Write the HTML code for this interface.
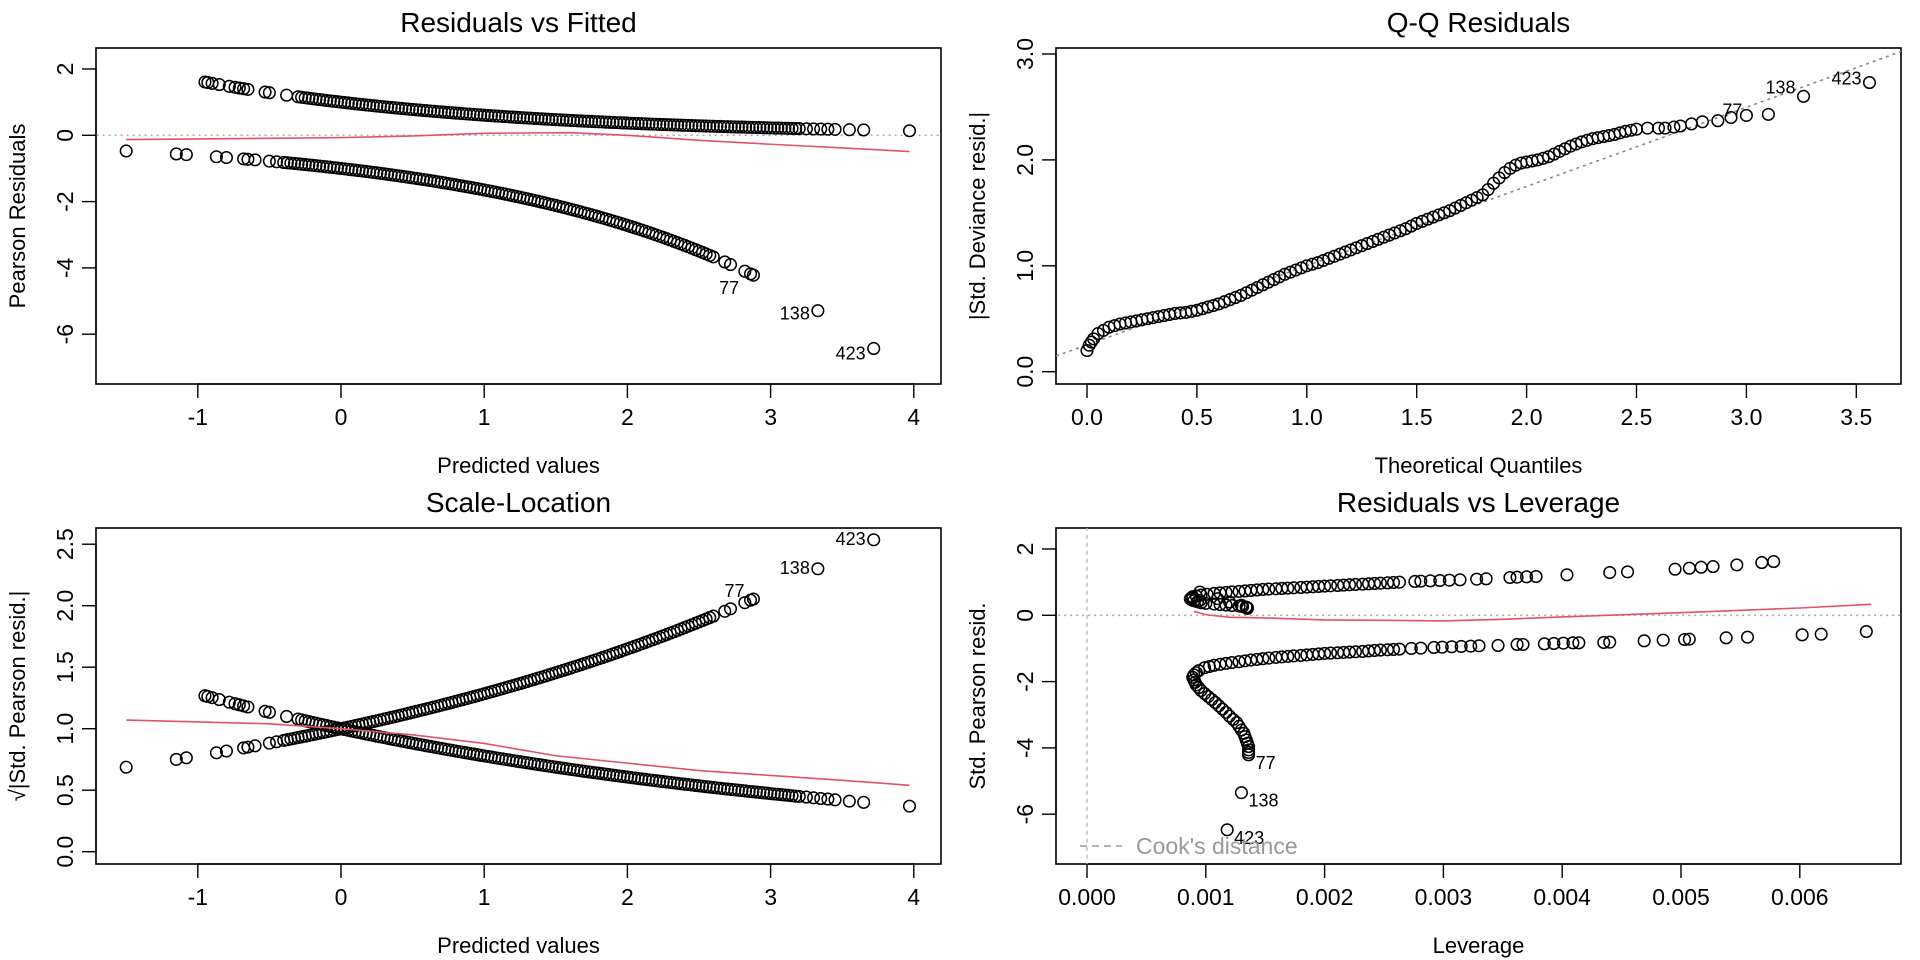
<!DOCTYPE html>
<html><head><meta charset="utf-8"><style>
html,body{margin:0;padding:0;background:#fff}
svg{display:block}
text{font-family:"Liberation Sans",Arial,sans-serif;fill:#000}
</style></head>
<body>
<svg id="s" width="1920" height="960" viewBox="0 0 1920 960"></svg>
<script>
// ---------- Data ----------
// Residuals vs Fitted: upper band (y=1)
const upEta = [-0.95,-0.93,-0.9,-0.85,-0.78,-0.74,-0.71,-0.68,-0.65,-0.53,-0.5,-0.38,
 -0.3,-0.25,-0.2,-0.15,-0.1,-0.05,0,0.05,0.1,0.15,0.2,0.25,0.3,0.35,0.4,0.45,0.5,0.55,0.6,0.65,0.7,0.75,0.8,0.85,0.9,0.95,1.0,1.05,1.1,1.15,1.2,1.25,1.3,1.35,1.4,1.45,1.5,1.55,1.6,1.65,1.7,1.75,1.8,1.85,1.9,1.95,2.0,2.05,2.1,2.15,2.2,2.25,2.3,2.35,2.4,2.45,2.5,2.55,2.6,2.65,2.7,2.75,2.8,2.85,2.9,2.95,3.0,3.05,3.1,3.15,3.2,
 3.25,3.3,3.35,3.4,3.45,3.55,3.65,3.97,
 -0.275,-0.225,-0.175,-0.125,-0.075,-0.025,0.025,0.075,0.125,0.175,0.225,0.275,0.325,0.375,0.425,0.475,0.525,0.575,0.625,0.675,0.725,0.775,0.825,0.875,0.925,0.975,1.025,1.075,1.125,1.175,1.225,1.275,1.325,1.375,1.425,1.475,1.525,1.575,1.625,1.675,1.725,1.775,1.825,1.875,1.925,1.975,2.025,2.075,2.125,2.175,2.225,2.275,2.325,2.375,2.425,2.475,2.525,2.575,2.625,2.675,2.725,2.775,2.825,2.875,2.925,2.975,3.025,3.075,3.125,3.175];
const upRes = [1.608,1.592,1.568,1.530,1.477,1.448,1.426,1.405,1.384,1.303,1.284,1.209,
 1.162,1.133,1.105,1.078,1.051,1.025,1.0,0.975,0.951,0.928,0.905,0.882,0.861,0.839,0.819,0.799,0.779,0.760,0.741,0.723,0.705,0.687,0.670,0.654,0.638,0.622,0.607,0.592,0.577,0.563,0.549,0.535,0.522,0.509,0.497,0.484,0.472,0.461,0.449,0.438,0.427,0.417,0.407,0.397,0.387,0.377,0.368,0.359,0.350,0.341,0.333,0.325,0.317,0.309,0.301,0.294,0.287,0.279,0.273,0.266,0.259,0.253,0.247,0.240,0.235,0.229,0.223,0.218,0.212,0.207,0.202,
 0.197,0.192,0.187,0.183,0.178,0.169,0.161,0.137,
 1.147,1.119,1.091,1.064,1.038,1.013,0.988,0.963,0.939,0.916,0.894,0.872,0.850,0.829,0.809,0.789,0.769,0.750,0.732,0.714,0.696,0.679,0.662,0.646,0.630,0.614,0.599,0.584,0.570,0.556,0.542,0.529,0.516,0.503,0.490,0.478,0.467,0.455,0.444,0.433,0.422,0.412,0.402,0.392,0.382,0.373,0.363,0.354,0.346,0.337,0.329,0.321,0.313,0.305,0.298,0.290,0.283,0.276,0.269,0.262,0.256,0.250,0.244,0.238,0.232,0.226,0.220,0.215,0.210,0.204];
// lower band (y=0)
const loEta = [-1.5,-1.15,-1.08,-0.87,-0.8,-0.68,-0.65,-0.6,-0.5,-0.45,
 -0.4,-0.35,-0.3,-0.25,-0.2,-0.15,-0.1,-0.05,0,0.05,0.1,0.15,0.2,0.25,0.3,0.35,0.4,0.45,0.5,0.55,0.6,0.65,0.7,0.75,0.8,0.85,0.9,0.95,1.0,1.05,1.1,1.15,1.2,1.25,1.3,1.35,1.4,1.45,1.5,1.55,1.6,1.65,1.7,1.75,1.8,1.85,1.9,1.95,2.0,2.05,2.1,2.15,2.2,2.25,2.3,2.35,2.4,2.45,2.5,2.55,2.6,
 2.68,2.72,2.82,2.86,2.88,3.33,3.72,
 -0.375,-0.325,-0.275,-0.225,-0.175,-0.125,-0.075,-0.025,0.025,0.075,0.125,0.175,0.225,0.275,0.325,0.375,0.425,0.475,0.525,0.575,0.625,0.675,0.725,0.775,0.825,0.875,0.925,0.975,1.025,1.075,1.125,1.175,1.225,1.275,1.325,1.375,1.425,1.475,1.525,1.575,1.625,1.675,1.725,1.775,1.825,1.875,1.925,1.975,2.025,2.075,2.125,2.175,2.225,2.275,2.325,2.375,2.425,2.475,2.525,2.575];
const loRes = [-0.472,-0.563,-0.583,-0.647,-0.670,-0.712,-0.723,-0.741,-0.779,-0.799,
 -0.819,-0.839,-0.861,-0.882,-0.905,-0.928,-0.951,-0.975,-1,-1.025,-1.051,-1.078,-1.105,-1.133,-1.162,-1.191,-1.221,-1.252,-1.284,-1.317,-1.350,-1.384,-1.419,-1.455,-1.492,-1.530,-1.568,-1.608,-1.649,-1.690,-1.733,-1.777,-1.822,-1.868,-1.916,-1.964,-2.014,-2.065,-2.117,-2.171,-2.226,-2.282,-2.340,-2.399,-2.460,-2.522,-2.586,-2.651,-2.718,-2.787,-2.858,-2.930,-3.004,-3.080,-3.158,-3.238,-3.320,-3.404,-3.490,-3.578,-3.669,
 -3.82,-3.90,-4.10,-4.18,-4.22,-5.29,-6.43,
 -0.829,-0.850,-0.872,-0.894,-0.916,-0.939,-0.963,-0.988,-1.013,-1.038,-1.064,-1.091,-1.119,-1.147,-1.176,-1.206,-1.237,-1.268,-1.300,-1.333,-1.367,-1.401,-1.437,-1.473,-1.511,-1.549,-1.588,-1.628,-1.669,-1.712,-1.755,-1.800,-1.845,-1.892,-1.940,-1.989,-2.039,-2.091,-2.144,-2.198,-2.254,-2.311,-2.369,-2.429,-2.491,-2.554,-2.618,-2.685,-2.753,-2.822,-2.894,-2.967,-3.042,-3.119,-3.198,-3.279,-3.362,-3.447,-3.534,-3.623];
const smoothFitX = [-1.5,0,0.5,1,1.6,2,2.5,3,3.5,3.97];
const smoothFitY = [-0.13,-0.07,-0.02,0.06,0.08,0.0,-0.15,-0.27,-0.38,-0.49];
// Scale-Location smoother
const smoothSLX = [-1.5,-0.5,0,0.5,1,1.5,2,2.5,3,3.5,3.97];
const smoothSLY = [1.07,1.04,1.0,0.95,0.88,0.78,0.72,0.66,0.62,0.58,0.54];
// Q-Q
const qqTheo = [0,0.01,0.02,0.03,0.05,0.1,0.15,0.2,0.25,0.3,0.35,0.4,0.45,0.5,0.55,0.6,0.65,0.7,0.75,0.8,0.85,0.9,0.95,1.0,1.05,1.1,1.15,1.2,1.25,1.3,1.35,1.4,1.45,1.5,1.55,1.6,1.65,1.7,1.75,1.8,1.85,1.9,1.95,2.0,2.05,2.1,2.15,2.2,2.25,2.3,2.35,2.4,2.45,2.5,
 2.55,2.6,2.63,2.67,2.7,2.75,2.8,2.87,2.93,3.0,3.1,3.26,3.56,
 0.075,0.125,0.175,0.225,0.275,0.325,0.375,0.425,0.475,0.525,0.575,0.625,0.675,0.725,0.775,0.825,0.875,0.925,0.975,1.025,1.075,1.125,1.175,1.225,1.275,1.325,1.375,1.425,1.475,1.525,1.575,1.625,1.675,1.725,1.775,1.825,1.875,1.925,1.975,2.025,2.075,2.125,2.175,2.225,2.275,2.325,2.375,2.425,2.475];
const qqObs = [0.20,0.25,0.28,0.31,0.36,0.42,0.45,0.47,0.49,0.51,0.53,0.55,0.56,0.58,0.61,0.64,0.68,0.72,0.77,0.82,0.87,0.92,0.96,1.0,1.03,1.07,1.11,1.15,1.19,1.23,1.27,1.31,1.35,1.40,1.44,1.48,1.52,1.57,1.62,1.67,1.78,1.88,1.95,1.98,2.00,2.03,2.08,2.13,2.17,2.20,2.22,2.24,2.27,2.29,
 2.30,2.30,2.30,2.31,2.32,2.34,2.36,2.37,2.40,2.42,2.43,2.60,2.73,
 0.39,0.435,0.46,0.48,0.50,0.52,0.54,0.555,0.57,0.595,0.625,0.66,0.70,0.745,0.795,0.845,0.895,0.94,0.98,1.015,1.05,1.09,1.13,1.17,1.21,1.25,1.29,1.33,1.375,1.42,1.46,1.50,1.545,1.595,1.645,1.72,1.83,1.92,1.97,1.99,2.015,2.055,2.105,2.15,2.185,2.21,2.23,2.255,2.28];
const qqLine = [0.253,0.748]; // intercept, slope
// Residuals vs Leverage
const levUp = [0.00578,0.00568,0.00547,0.00527,0.00517,0.00507,0.00495,0.00455,0.0044,0.00404,0.00378,0.0037,0.00362,0.00356,0.00336,0.00328,0.00314,0.00305,0.00297,0.00289,0.00281,0.00276,0.00263,0.00253,0.00242,0.00232,0.00221,0.00211,0.002,0.0019,0.0018,0.00169,0.00159,0.00148,0.00138,0.00128,0.00117,0.00107,0.00096,0.00089,0.00087,0.0009,0.00096,0.00107,0.00117,0.00128,0.00134,0.00135,
 0.00092,0.00088,0.00088,0.00093,0.001,0.00112,0.00122,0.00131,0.00135,0.00101,0.00112,0.00122,0.00133,0.00143,0.00153,0.00164,0.00174,0.00185,0.00195,0.00205,0.00216,0.00226,0.00237,0.00247,0.00258,0.00095,0.00095,0.0011,0.0012,0.0013];
const resUp = [1.62,1.59,1.52,1.47,1.45,1.42,1.39,1.31,1.29,1.22,1.17,1.16,1.15,1.14,1.10,1.09,1.07,1.06,1.05,1.04,1.03,1.02,1.0,0.98,0.96,0.94,0.92,0.90,0.88,0.86,0.84,0.82,0.80,0.78,0.75,0.72,0.69,0.66,0.61,0.56,0.50,0.44,0.38,0.34,0.31,0.28,0.25,0.21,
 0.58,0.53,0.47,0.41,0.36,0.325,0.295,0.265,0.23,0.635,0.675,0.705,0.735,0.765,0.79,0.81,0.83,0.85,0.87,0.89,0.91,0.93,0.95,0.97,0.99,0.70,0.45,0.5,0.4,0.3];
const levLo = [0.00656,0.00618,0.00602,0.00556,0.00538,0.00507,0.00503,0.00485,0.00469,0.0044,0.00435,0.00414,0.00409,0.00401,0.00393,0.00385,0.00367,0.00362,0.00346,0.0033,0.00323,0.00315,0.00307,0.00299,0.00292,0.00281,0.00273,0.00263,0.00253,0.00242,0.00232,0.00221,0.00211,0.002,0.0019,0.0018,0.00169,0.00159,0.00148,0.00138,0.00128,0.00117,0.00107,0.00099,0.00094,0.0009,0.0009,0.00092,0.00096,0.00102,0.00108,0.00114,0.0012,0.00126,0.0013,0.00133,0.00135,0.00136,0.00136,0.0013,0.00118,
 0.00092,0.00089,0.00091,0.00094,0.00099,0.00105,0.00111,0.00117,0.00123,0.00128,0.00132,0.00134,0.00136,0.00136,0.00103,0.00112,0.00122,0.00133,0.00143,0.00153,0.00164,0.00174,0.00185,0.00195,0.00205,0.00216,0.00226,0.00237,0.00247,0.00258];
const resLo = [-0.49,-0.57,-0.59,-0.66,-0.68,-0.72,-0.73,-0.75,-0.77,-0.81,-0.82,-0.83,-0.83,-0.84,-0.85,-0.86,-0.88,-0.88,-0.91,-0.92,-0.93,-0.94,-0.95,-0.96,-0.97,-0.99,-1.0,-1.02,-1.04,-1.06,-1.09,-1.11,-1.13,-1.15,-1.18,-1.21,-1.24,-1.27,-1.31,-1.35,-1.40,-1.45,-1.51,-1.58,-1.67,-1.80,-1.95,-2.10,-2.27,-2.45,-2.63,-2.83,-3.04,-3.24,-3.46,-3.66,-3.86,-4.06,-4.21,-5.35,-6.47,
 -1.73,-1.87,-2.02,-2.18,-2.36,-2.54,-2.73,-2.93,-3.14,-3.35,-3.56,-3.76,-3.96,-4.14,-1.545,-1.48,-1.425,-1.375,-1.33,-1.29,-1.255,-1.225,-1.195,-1.165,-1.14,-1.12,-1.10,-1.075,-1.05,-1.03];
const smoothLevX = [0.0009,0.001,0.0012,0.0015,0.002,0.0025,0.003,0.0035,0.004,0.005,0.006,0.0066];
const smoothLevY = [0.12,0.02,-0.06,-0.08,-0.14,-0.15,-0.17,-0.12,-0.05,0.08,0.22,0.33];
const fitTicks = [-1,0,1,2,3,4];
const resTicks = [2,0,-2,-4,-6];
const qqXTicks = ["0.0","0.5","1.0","1.5","2.0","2.5","3.0","3.5"];
const qqYTicks = ["0.0","1.0","2.0","3.0"];
const slYTicks = ["0.0","0.5","1.0","1.5","2.0","2.5"];
const levTicks = ["0.000","0.001","0.002","0.003","0.004","0.005","0.006"];

// ---------- Drawing ----------
const NS='http://www.w3.org/2000/svg';
const svg=document.getElementById('s');
function el(tag,attrs,parent,txt){const e=document.createElementNS(NS,tag);for(const k in attrs)e.setAttribute(k,attrs[k]);if(txt!==undefined)e.textContent=txt;(parent||svg).appendChild(e);return e;}
function lin(d0,d1,r0,r1){return v=>r0+(v-d0)*(r1-r0)/(d1-d0);}

function panel(name,ox,oy,title,xlab,ylab,xs,ys,xt,xtl,yt,ytl){
  const g=el('g',{});
  
  
  const L=ox+96,R=ox+941,T=oy+48,B=oy+384;
  const box=el('rect',{x:L,y:T,width:R-L,height:B-T,fill:'none',stroke:'#000','stroke-width':1.6},g);
  
  
  const t=el('text',{x:(L+R)/2,y:oy+32,'text-anchor':'middle','font-size':28},g,title);
  
  
  const xl=el('text',{x:(L+R)/2,y:oy+473,'text-anchor':'middle','font-size':22},g,xlab);
  
  
  const yl=el('text',{x:0,y:0,'text-anchor':'middle','font-size':22,transform:`translate(${ox+25},${(T+B)/2}) rotate(-90)`},g,ylab);
  
  
  const xa=el('g',{},g);
  
  
  el('line',{x1:xs(xt[0]),x2:xs(xt[xt.length-1]),y1:B,y2:B,stroke:'#000','stroke-width':1.4},xa);
  xt.forEach((v,i)=>{const x=xs(v);el('line',{x1:x,x2:x,y1:B,y2:B+14,stroke:'#000','stroke-width':1.4},xa);
    const tl=el('text',{x:x,y:oy+425,'text-anchor':'middle','font-size':23},xa,xtl[i]);
    
    });
  const ya=el('g',{},g);
  
  
  const ymin=Math.min(...yt),ymax=Math.max(...yt);
  el('line',{x1:L,x2:L,y1:ys(ymin),y2:ys(ymax),stroke:'#000','stroke-width':1.4},ya);
  yt.forEach((v,i)=>{const y=ys(v);el('line',{x1:L-14,x2:L,y1:y,y2:y,stroke:'#000','stroke-width':1.4},ya);
    const tl=el('text',{x:0,y:0,'text-anchor':'middle','font-size':23,transform:`translate(${ox+73},${y}) rotate(-90)`},ya,ytl[i]);
    
    });
  return {g,L,R,T,B};
}
function clip(id,p){const c=el('clipPath',{id:id});el('rect',{x:p.L,y:p.T,width:p.R-p.L,height:p.B-p.T},c);return `url(#${id})`;}
function points(parent,xsArr,ysArr,xs,ys,nm){
  const g=el('g',{fill:'none',stroke:'#000','stroke-width':1.5},parent);
  
  
  for(let i=0;i<xsArr.length;i++){el('circle',{cx:xs(xsArr[i]),cy:ys(ysArr[i]),r:5.8},g);}
}
function poly(parent,xa,ya,xs,ys,nm,attrs){
  const p=el('polyline',Object.assign({points:xa.map((v,i)=>xs(v)+','+ys(ya[i])).join(' '),fill:'none'},attrs),parent);
  
  
}
function label(parent,x,y,txt,anchor){
  const t=el('text',{x:x,y:y,'text-anchor':anchor,'font-size':18},parent,txt);
  
  
}

// Panel 1: Residuals vs Fitted
{
  const xs=lin(0,1,341,484.2), ys=lin(0,2,135.3,69);
  const p=panel('residuals-vs-fitted-panel',0,0,'Residuals vs Fitted','Predicted values','Pearson Residuals',xs,ys,fitTicks,fitTicks.map(String),resTicks,resTicks.map(String));
  const cp=clip('c1',p);const g=el('g',{'clip-path':cp},p.g);
  poly(g,[-2,5],[0,0],xs,ys,'zero-reference-line',{stroke:'#aaa','stroke-width':1.6,'stroke-dasharray':'2,4'});
  points(g,upEta,upRes,xs,ys,'points-upper');
  points(g,loEta,loRes,xs,ys,'points-lower');
  poly(g,smoothFitX,smoothFitY,xs,ys,'smoother-line',{stroke:'#DF536B','stroke-width':1.6});
  label(p.g,xs(2.78),ys(-4.22)+19,'77','end');
  label(p.g,xs(3.33)-8,ys(-5.29)+9,'138','end');
  label(p.g,xs(3.72)-8,ys(-6.43)+11,'423','end');
}
// Panel 2: Q-Q
{
  const xs=lin(0,0.5,1087,1196.9), ys=lin(0,1,371.7,265.8);
  const p=panel('qq-residuals-panel',960,0,'Q-Q Residuals','Theoretical Quantiles','|Std. Deviance resid.|',xs,ys,qqXTicks.map(Number),qqXTicks,qqYTicks.map(Number),qqYTicks);
  const cp=clip('c2',p);const g=el('g',{'clip-path':cp},p.g);
  poly(g,[-0.5,4],[qqLine[0]-0.5*qqLine[1],qqLine[0]+4*qqLine[1]],xs,ys,'qq-reference-line',{stroke:'#888','stroke-width':1.6,'stroke-dasharray':'3,4'});
  points(g,qqTheo,qqObs,xs,ys,'qq-points');
  label(p.g,xs(3.56)-8,ys(2.73)+2,'423','end');
  label(p.g,xs(3.26)-8,ys(2.60)-3,'138','end');
  label(p.g,xs(3.0)-4,ys(2.42)+1,'77','end');
}
// Panel 3: Scale-Location
{
  const xs=lin(0,1,341,484.2), ys=lin(0,0.5,851.7,790.2);
  const p=panel('scale-location-panel',0,480,'Scale-Location','Predicted values','\u221A|Std. Pearson resid.|',xs,ys,fitTicks,fitTicks.map(String),slYTicks.map(Number),slYTicks);
  const cp=clip('c3',p);const g=el('g',{'clip-path':cp},p.g);
  points(g,upEta,upRes.map(v=>Math.sqrt(Math.abs(v))),xs,ys,'points-upper');
  points(g,loEta,loRes.map(v=>Math.sqrt(Math.abs(v))),xs,ys,'points-lower');
  poly(g,smoothSLX,smoothSLY,xs,ys,'smoother-line',{stroke:'#DF536B','stroke-width':1.6});
  label(p.g,xs(3.72)-8,ys(Math.sqrt(6.43))+5,'423','end');
  label(p.g,xs(3.33)-8,ys(Math.sqrt(5.29))+5,'138','end');
  label(p.g,xs(2.86)-6,ys(Math.sqrt(4.22))-2,'77','end');
}
// Panel 4: Residuals vs Leverage
{
  const xs=lin(0,0.001,1087,1205.8), ys=lin(0,2,615.3,549);
  const p=panel('residuals-vs-leverage-panel',960,480,'Residuals vs Leverage','Leverage','Std. Pearson resid.',xs,ys,levTicks.map(Number),levTicks,resTicks,resTicks.map(String));
  const cp=clip('c4',p);const g=el('g',{'clip-path':cp},p.g);
  poly(g,[-0.001,0.008],[0,0],xs,ys,'zero-reference-line',{stroke:'#aaa','stroke-width':1.6,'stroke-dasharray':'2,4'});
  poly(g,[0,0],[-10,10],xs,ys,'zero-leverage-line',{stroke:'#bbb','stroke-width':1.4,'stroke-dasharray':'4,4'});
  points(g,levUp,resUp,xs,ys,'points-upper');
  points(g,levLo,resLo,xs,ys,'points-lower');
  poly(g,smoothLevX,smoothLevY,xs,ys,'smoother-line',{stroke:'#DF536B','stroke-width':1.6});
  label(p.g,xs(0.00136)+7,ys(-4.21)+14,'77','start');
  label(p.g,xs(0.0013)+7,ys(-5.35)+14,'138','start');
  label(p.g,xs(0.00118)+7,ys(-6.47)+14,'423','start');
  const lg=el('g',{},p.g);
  
  
  el('line',{x1:1080,x2:1122,y1:846,y2:846,stroke:'#999','stroke-width':1.6,'stroke-dasharray':'7,5'},lg);
  el('text',{x:1136,y:854,'font-size':23,fill:'#999',style:'fill:#999'},lg,"Cook's distance");
}
</script>
</body></html>
